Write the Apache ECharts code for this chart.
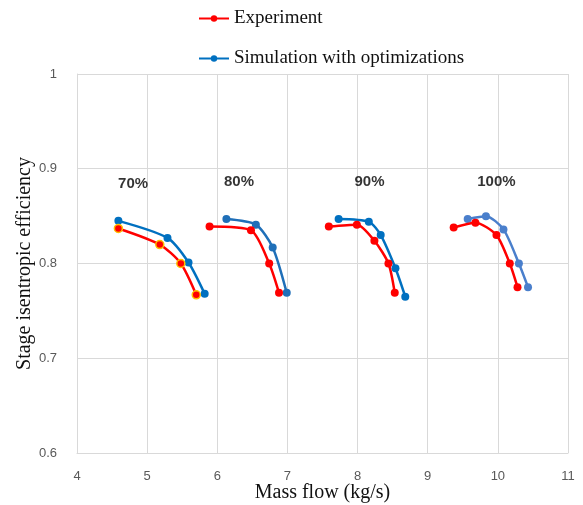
<!DOCTYPE html>
<html>
<head>
    <meta charset="UTF-8" />
    <script src="https://cdn.jsdelivr.net/npm/echarts@6/dist/echarts.min.js"></script>
</head>
<body style="margin: 0; background: #fff">
    <div id="chart" style="width: 583px; height: 505px"></div>
    <script type="text/javascript">
        // mass flow (kg/s) / efficiency, one line per speed
        var exp70 = [[4.59, 0.837], [5.18, 0.820], [5.48, 0.800], [5.70, 0.767]];
        var exp80 = [[5.89, 0.839], [6.48, 0.835], [6.74, 0.800], [6.88, 0.769]];
        var exp90 = [[7.59, 0.839], [7.99, 0.841], [8.24, 0.824], [8.44, 0.800], [8.53, 0.769]];
        var exp100 = [[9.37, 0.838], [9.68, 0.843], [9.98, 0.830], [10.17, 0.800], [10.28, 0.775]];

        var sim70 = [[4.59, 0.845], [5.29, 0.827], [5.59, 0.801], [5.82, 0.768]];
        var sim80 = [[6.13, 0.847], [6.55, 0.841], [6.79, 0.817], [6.99, 0.769]];
        var sim90 = [[7.73, 0.847], [8.16, 0.844], [8.33, 0.830], [8.54, 0.795], [8.68, 0.765]];
        var sim100 = [[9.57, 0.847], [9.83, 0.850], [10.08, 0.836], [10.30, 0.800], [10.43, 0.775]];

        var speedLabels = [[4.80, 0.884, '70%'], [6.31, 0.886, '80%'], [8.17, 0.886, '90%'], [9.98, 0.886, '100%']];

        var RED = '#ff0000';
        var BLUE = '#0070c0';

        function line(name, data, color, border) {
            return {
                name: name,
                type: 'line',
                data: data,
                smooth: 0.25,
                symbol: 'circle',
                symbolSize: 8,
                lineStyle: { color: color, width: 2.5 },
                itemStyle: { color: color, borderColor: border || color, borderWidth: border ? 1.5 : 0 },
                z: name == 'Experiment' ? 3 : 2
            };
        }

        var legendText = { fontFamily: 'Liberation Serif', fontSize: 19, color: '#111' };

        var myChart = echarts.init(document.getElementById('chart'));
        var option = {
            animation: false,
            legend: [{
                data: ['Experiment'],
                left: 193, top: 4,
                itemWidth: 30, itemHeight: 8,
                textStyle: legendText
            }, {
                data: ['Simulation with optimizations'],
                left: 193, top: 44,
                itemWidth: 30, itemHeight: 8,
                textStyle: legendText
            }],
            grid: { left: 77, right: 15, top: 74, bottom: 52, outerBoundsMode: 'none' },
            xAxis: {
                type: 'value', min: 4, max: 11, interval: 1,
                name: 'Mass flow (kg/s)', nameLocation: 'middle', nameGap: 30, nameMoveOverlap: false,
                nameTextStyle: { fontFamily: 'Liberation Serif', fontSize: 20, color: '#111' },
                axisLine: { lineStyle: { color: '#d9d9d9', width: 1 } },
                axisTick: { show: false },
                axisLabel: { color: '#595959', fontSize: 13, margin: 17 },
                splitLine: { lineStyle: { color: '#d9d9d9' } }
            },
            yAxis: {
                type: 'value', min: 0.6, max: 1, interval: 0.1,
                name: 'Stage isentropic efficiency', nameLocation: 'middle', nameGap: 42, nameMoveOverlap: false,
                nameTextStyle: { fontFamily: 'Liberation Serif', fontSize: 20, color: '#111' },
                axisLine: { show: true, lineStyle: { color: '#d9d9d9', width: 1 } },
                axisTick: { show: false },
                axisLabel: {
                    color: '#595959', fontSize: 13, margin: 20,
                    formatter: function (v) { return Math.round(v * 10) / 10 + ''; }
                },
                splitLine: { lineStyle: { color: '#d9d9d9' } }
            },
            series: [
                line('Simulation with optimizations', sim70, BLUE),
                line('Simulation with optimizations', sim80, '#1f6fb8'),
                line('Simulation with optimizations', sim90, BLUE),
                line('Simulation with optimizations', sim100, '#4a7fcc'),
                line('Experiment', exp80, RED),
                line('Experiment', exp70, RED, '#ffc000'),
                line('Experiment', exp90, RED),
                line('Experiment', exp100, RED),
                {
                    type: 'scatter',
                    symbolSize: 0,
                    silent: true,
                    data: speedLabels.map(function (d) { return { value: [d[0], d[1]], name: d[2] }; }),
                    label: {
                        show: true, position: 'inside', formatter: '{b}',
                        fontWeight: 'bold', fontSize: 15, color: '#000',
                        fontFamily: 'Liberation Sans'
                    }
                }
            ]
        };
        myChart.setOption(option);
    </script>
</body>
</html>
